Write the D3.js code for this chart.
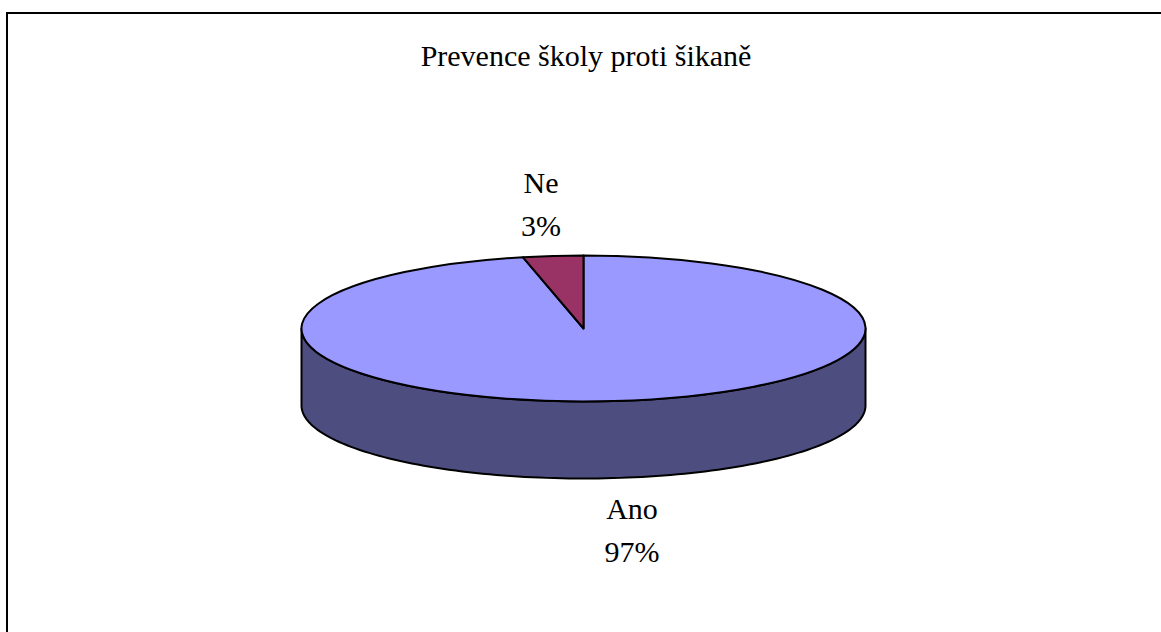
<!DOCTYPE html>
<html><head><meta charset="utf-8">
<script src="https://cdn.jsdelivr.net/npm/d3@7"></script>
<style>html,body{margin:0;padding:0;background:#fff}svg{display:block}text{font-family:"Liberation Serif",serif;fill:#000;font-size:30px;text-anchor:middle}</style>
</head><body><svg id="c" width="1161" height="632"></svg>
<script>
const titleText = "Prevence školy proti šikaně";
const categories = ["Ano", "Ne"];
const values = [96.55, 3.45];
const sliceColors = ["#9999FF", "#993366"];
const sideColor = "#4D4D80";

const W = 1161, H = 632;
const cx = 583.5, cy = 328.5, rx = 282, ry = 73, depth = 77;
const svg = d3.select("#c");

svg.append("path")
  .attr("d", `M7,${H+2}V13H${W+2}`)
  .attr("fill", "#fff").attr("stroke", "#000").attr("stroke-width", 2);

svg.append("text").attr("x", 586).attr("y", 66).text(titleText);

const pie = d3.pie().sort(null).value(d => d);
const arcs = pie(values);
const project = a => [cx + rx * Math.sin(a), cy - ry * Math.cos(a)];

// Side wall: the visible front half of the rim
const front = d3.range(0, 121).map(i => Math.PI / 2 + i / 120 * Math.PI);
const side = d3.area()
  .x(a => project(a)[0])
  .y0(a => project(a)[1])
  .y1(a => project(a)[1] + depth);
svg.append("path").attr("d", side(front))
  .attr("fill", sideColor).attr("stroke", "#000").attr("stroke-width", 2).attr("stroke-linejoin", "round");

// Top face, drawn through d3.arc and squashed to perspective
const arc = d3.arc().innerRadius(0).outerRadius(rx);
svg.append("g").attr("transform", `translate(${cx},${cy}) scale(1,${ry / rx})`)
  .selectAll("path").data(arcs).join("path")
  .attr("d", arc)
  .attr("fill", (d, i) => sliceColors[i])
  .attr("stroke", "#000").attr("stroke-width", 2)
  .attr("stroke-linejoin", "round")
  .attr("vector-effect", "non-scaling-stroke");

// Labels
const fmt = d3.format(".0f");
const labelAnchors = [[632, 519], [541, 193]];
categories.forEach((c, i) => {
  const t = svg.append("text");
  t.append("tspan").attr("x", labelAnchors[i][0]).attr("y", labelAnchors[i][1]).text(c);
  t.append("tspan").attr("x", labelAnchors[i][0]).attr("y", labelAnchors[i][1] + 43).text(fmt(values[i]) + "%");
});
</script></body></html>
